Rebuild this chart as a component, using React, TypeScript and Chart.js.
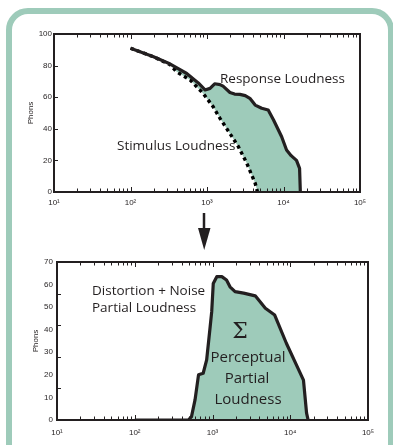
import React, { useEffect, useRef } from "react";
import { Chart, registerables } from "chart.js";

Chart.register(...registerables);

// ---------- data ----------
const decadeTicks = [10, 100, 1000, 10000, 100000];
const decadeLabels = ["10¹", "10²", "10³", "10⁴", "10⁵"];

// Top panel: Response loudness (solid)
const responseFreq = [100, 200, 331, 543, 769, 942, 1096, 1259, 1479, 1622, 1995, 2291, 2692, 3162, 3631, 4266, 5188, 6310, 7413, 9462, 10960, 12590, 14790, 16220, 16600];
const responsePhons = [91, 85.6, 81, 75, 69, 64.6, 65.6, 68.5, 68, 67, 63, 62, 61.8, 61, 59.3, 55, 53, 51.9, 45.6, 35, 26.6, 23, 20, 15, 0];

// Top panel: Stimulus loudness (dotted)
const stimulusFreq = [100, 200, 331, 398, 603, 891, 1202, 1479, 1995, 2570, 3311, 4266, 4571];
const stimulusPhons = [91, 85.6, 80.5, 76.2, 70.9, 62.4, 54, 46.6, 37, 28.7, 18.2, 5.5, 0];

// Bottom panel: Perceptual partial loudness
const partialFreq = [100, 490, 537, 596, 661, 759, 841, 933, 977, 1023, 1135, 1318, 1514, 1679, 1950, 2512, 3548, 4786, 6310, 8913, 12590, 14790, 16220, 16980];
const partialPhons = [0, 0, 1.5, 8.9, 20, 20.7, 26.6, 41.3, 48, 60.5, 63.5, 63.5, 62, 59, 56.9, 56.2, 55, 49.5, 46.5, 34, 22.9, 17.7, 3, 0];

const topYTickMarks = [20, 40, 60, 80];
const bottomYTickMarks = [14, 28, 42, 56];

const INK = "#231f20";
const GREEN = "#9ecbba";

function minorTicks(): number[] {
  const out: number[] = [];
  for (const d of [10, 100, 1000, 10000]) {
    for (let m = 1; m <= 9; m++) out.push(d * m);
  }
  out.push(100000);
  return out;
}

type Label = { text: string; x: number; y: number; font: string; align: CanvasTextAlign };

function makeDecor(id: string, yMarks: number[], labels: Label[]) {
  return {
    id,
    afterDatasetsDraw(chart: any) {
      const { ctx } = chart;
      ctx.save();
      ctx.fillStyle = INK;
      ctx.textBaseline = "middle";
      for (const l of labels) {
        ctx.font = l.font;
        ctx.textAlign = l.align;
        ctx.fillText(l.text, l.x, l.y);
      }
      ctx.restore();
    },
    afterDraw(chart: any) {
      const { ctx, chartArea } = chart;
      const xs = chart.scales.x;
      const ys = chart.scales.y;
      const { left, right, top, bottom } = chartArea;
      ctx.save();
      ctx.strokeStyle = INK;
      ctx.lineWidth = 1;
      ctx.beginPath();
      for (const v of minorTicks()) {
        const px = Math.round(xs.getPixelForValue(v)) + 0.5;
        const major = decadeTicks.includes(v);
        const len = major ? 5 : 3.5;
        ctx.moveTo(px, bottom);
        ctx.lineTo(px, bottom - len);
        ctx.moveTo(px, top);
        ctx.lineTo(px, top + len);
      }
      for (const v of yMarks) {
        const py = Math.round(ys.getPixelForValue(v)) + 0.5;
        ctx.moveTo(left, py);
        ctx.lineTo(left + 4, py);
      }
      ctx.stroke();
      ctx.lineWidth = 2;
      ctx.strokeRect(left, top, right - left, bottom - top);
      ctx.restore();
    },
  };
}

function axes(yMax: number, yStep: number, yWidth: number, xHeight: number, titlePad: number, yPad: number, xPad: number) {
  const tickFont = { family: "'Liberation Sans', Arial, sans-serif", size: 8 };
  return {
    x: {
      type: "logarithmic" as const,
      min: 10,
      max: 100000,
      grid: { display: false, drawTicks: false },
      border: { display: false },
      afterBuildTicks: (scale: any) => {
        scale.ticks = decadeTicks.map((v) => ({ value: v }));
      },
      afterFit: (scale: any) => {
        scale.height = xHeight;
      },
      ticks: {
        autoSkip: false,
        maxRotation: 0,
        padding: xPad,
        color: INK,
        font: tickFont,
        callback: (v: any) => decadeLabels[decadeTicks.indexOf(Number(v))] ?? "",
      },
    },
    y: {
      min: 0,
      max: yMax,
      grid: { display: false, drawTicks: false },
      border: { display: false },
      afterFit: (scale: any) => {
        scale.width = yWidth;
      },
      ticks: { stepSize: yStep, padding: yPad, color: INK, font: tickFont },
      title: {
        display: true,
        text: "Phons",
        color: INK,
        font: { family: "'Liberation Sans', Arial, sans-serif", size: 8 },
        padding: { top: titlePad, bottom: 0 },
      },
    },
  };
}

const textFont = "13.5px 'Open Sans', 'Noto Sans', sans-serif";
const bigFont = "15px 'Open Sans', 'Noto Sans', sans-serif";

function TopChart() {
  const ref = useRef<HTMLCanvasElement | null>(null);
  useEffect(() => {
    if (!ref.current) return;
    const lastFreq = responseFreq[responseFreq.length - 1];
    const boundary = stimulusFreq.map((f, i) => ({ x: f, y: stimulusPhons[i] }));
    boundary.push({ x: lastFreq, y: 0 });
    const chart = new Chart(ref.current, {
      type: "line",
      data: {
        datasets: [
          {
            label: "Response Loudness",
            data: responseFreq.map((f, i) => ({ x: f, y: responsePhons[i] })),
            borderColor: INK,
            borderWidth: 3.2,
            pointRadius: 0,
            fill: "+1",
            backgroundColor: GREEN,
            tension: 0,
            borderJoinStyle: "round",
          },
          {
            label: "fill boundary",
            data: boundary,
            borderWidth: 0,
            borderColor: "rgba(0,0,0,0)",
            pointRadius: 0,
            fill: false,
            tension: 0,
          },
          {
            label: "Stimulus Loudness",
            data: stimulusFreq.map((f, i) => ({ x: f, y: stimulusPhons[i] })),
            borderColor: "#000000",
            borderWidth: 3.4,
            borderDash: [3.4, 3.4],
            borderCapStyle: "butt",
            pointRadius: 0,
            fill: false,
            tension: 0,
          },
        ],
      },
      options: {
        animation: false,
        responsive: false,
        devicePixelRatio: 1,
        layout: { padding: { left: 0, top: 34, right: 33, bottom: 0 } },
        plugins: {
          legend: { display: false },
          tooltip: { enabled: false },
          filler: { drawTime: "beforeDatasetsDraw" },
        } as any,
        scales: axes(100, 20, 54, 23, 26, 2, 6) as any,
      },
      plugins: [
        makeDecor("decorTop", topYTickMarks, [
          { text: "Response Loudness", x: 220, y: 79, font: textFont, align: "left" },
          { text: "Stimulus Loudness", x: 117, y: 146, font: textFont, align: "left" },
        ]),
      ],
    });
    return () => chart.destroy();
  }, []);
  return (
    <canvas
      ref={ref}
      width={393}
      height={215}
      style={{ position: "absolute", left: 0, top: 0, width: 393, height: 215, display: "block" }}
    />
  );
}

function BottomChart() {
  const ref = useRef<HTMLCanvasElement | null>(null);
  useEffect(() => {
    if (!ref.current) return;
    const chart = new Chart(ref.current, {
      type: "line",
      data: {
        datasets: [
          {
            label: "Perceptual Partial Loudness",
            data: partialFreq.map((f, i) => ({ x: f, y: partialPhons[i] })),
            borderColor: INK,
            borderWidth: 3.2,
            pointRadius: 0,
            fill: "origin",
            backgroundColor: GREEN,
            tension: 0,
            borderJoinStyle: "round",
          },
        ],
      },
      options: {
        animation: false,
        responsive: false,
        devicePixelRatio: 1,
        layout: { padding: { left: 0, top: 42, right: 25, bottom: 0 } },
        plugins: {
          legend: { display: false },
          tooltip: { enabled: false },
          filler: { drawTime: "beforeDatasetsDraw" },
        } as any,
        scales: axes(70, 10, 57, 25, 31, 4, 8) as any,
      },
      plugins: [
        makeDecor("decorBottom", bottomYTickMarks, [
          { text: "Distortion + Noise", x: 92, y: 71, font: textFont, align: "left" },
          { text: "Partial Loudness", x: 92, y: 88, font: textFont, align: "left" },
          { text: "Σ", x: 240, y: 112, font: "22px 'DejaVu Serif', serif", align: "center" },
          { text: "Perceptual", x: 248, y: 138, font: bigFont, align: "center" },
          { text: "Partial", x: 247, y: 159, font: bigFont, align: "center" },
          { text: "Loudness", x: 248, y: 180, font: bigFont, align: "center" },
        ]),
      ],
    });
    return () => chart.destroy();
  }, []);
  return (
    <canvas
      ref={ref}
      width={393}
      height={225}
      style={{ position: "absolute", left: 0, top: 220, width: 393, height: 225, display: "block" }}
    />
  );
}

export default function App() {
  return (
    <div
      style={{
        position: "absolute",
        left: 0,
        top: 0,
        width: 393,
        height: 445,
        overflow: "hidden",
        background: "#ffffff",
      }}
    >
      <div
        style={{
          position: "absolute",
          left: 6,
          top: 8,
          width: 388,
          height: 470,
          boxSizing: "border-box",
          border: `6px solid ${GREEN}`,
          borderRadius: 22,
        }}
      />
      <TopChart />
      <svg style={{ position: "absolute", left: 0, top: 0 }} width={393} height={445}>
        <line x1={204} y1={213} x2={204} y2={232} stroke={INK} strokeWidth={2.5} />
        <polygon points="198,228 210.5,228 204.2,250" fill={INK} />
      </svg>
      <BottomChart />
    </div>
  );
}
